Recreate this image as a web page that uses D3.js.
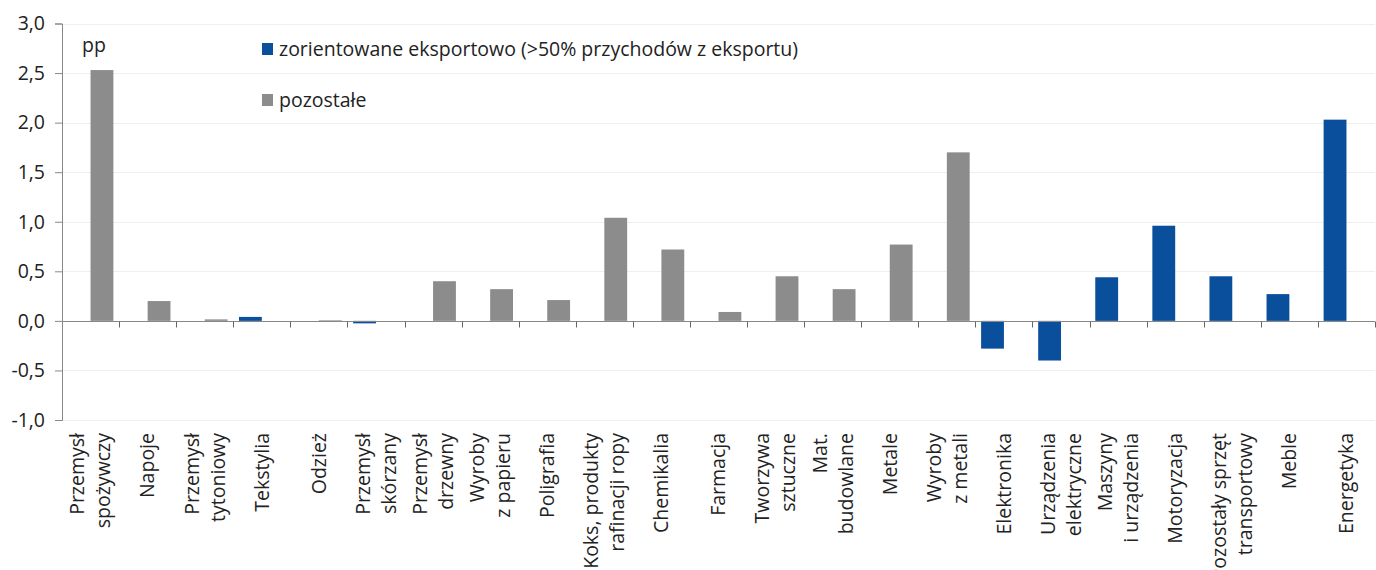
<!DOCTYPE html>
<html>
<head>
<meta charset="utf-8">
<script src="https://cdn.jsdelivr.net/npm/d3@7"></script>
<style>
  body { margin: 0; background: #fff; }
  text { font-family: "Open Sans", sans-serif; fill: #222; }
</style>
</head>
<body>
<div id="chart"></div>
<script>
// categories (\n = line break in the axis label)
var categories = [
  "Przemysł\nspożywczy", "Napoje", "Przemysł\ntytoniowy", "Tekstylia", "Odzież",
  "Przemysł\nskórzany", "Przemysł\ndrzewny", "Wyroby\nz papieru", "Poligrafia",
  "Koks, produkty\nrafinacji ropy", "Chemikalia", "Farmacja", "Tworzywa\nsztuczne",
  "Mat.\nbudowlane", "Metale", "Wyroby\nz metali", "Elektronika", "Urządzenia\nelektryczne",
  "Maszyny\ni urządzenia", "Motoryzacja", "Pozostały sprzęt\ntransportowy", "Meble", "Energetyka"
];

// export-oriented industries (>50% revenue from exports)
var exportValues = [
  null, null, null, 0.04, null,
  -0.025, null, null, null,
  null, null, null, null,
  null, null, null, -0.28, -0.40,
  0.44, 0.96, 0.45, 0.27, 2.03
];

// other industries
var otherValues = [
  2.53, 0.20, 0.015, null, 0.005,
  null, 0.40, 0.32, 0.21,
  1.04, 0.72, 0.09, 0.45,
  0.32, 0.77, 1.70, null, null,
  null, null, null, null, null
];

var yTicks = [-1.0, -0.5, 0.0, 0.5, 1.0, 1.5, 2.0, 2.5, 3.0];

var seriesNames = ["zorientowane eksportowo (>50% przychodów z eksportu)", "pozostałe"];
var seriesColors = ["#0a4f9c", "#8c8c8c"];

var chart_width = 1376, chart_height = 570;
var plot_left = 62, plot_right = 1375, plot_top = 23.5, plot_bottom = 420;
var font_size = '19.5px';

var svg = d3.select('#chart')
  .append('svg')
  .attr('width', chart_width)
  .attr('height', chart_height);

var x = d3.scaleBand()
  .domain(d3.range(categories.length))
  .range([plot_left, plot_right])
  .padding(0);

var bw = x.bandwidth();
var xs = d3.scaleBand()
  .domain([0, 1])
  .range([bw * 0.1, bw * 0.9])
  .padding(0);

var y = d3.scaleLinear()
  .domain([-1, 3])
  .range([plot_bottom, plot_top]);

// decimal comma, plain hyphen for negatives
var fmt = function(d) { return d.toFixed(1).replace('.', ','); };

// gridlines
svg.append('g')
  .selectAll('line')
  .data(yTicks)
  .enter()
  .append('line')
  .attr('x1', plot_left)
  .attr('x2', plot_right)
  .attr('y1', function(d) { return Math.round(y(d)) + 0.5; })
  .attr('y2', function(d) { return Math.round(y(d)) + 0.5; })
  .attr('stroke', '#efefef')
  .attr('stroke-width', 1);

// y axis
var yAxis = svg.append('g')
  .attr('transform', 'translate(' + plot_left + ',0)')
  .call(d3.axisLeft(y).tickValues(yTicks).tickFormat(fmt).tickSize(7).tickPadding(10));
yAxis.select('.domain').attr('stroke', '#888');
yAxis.selectAll('.tick line').attr('stroke', '#888');
yAxis.selectAll('.tick text')
  .style('font-size', font_size)
  .style('font-family', '"Open Sans", sans-serif')
  .attr('fill', '#222');

// bars
var series = [exportValues, otherValues];
series.forEach(function(vals, s) {
  svg.append('g')
    .selectAll('rect')
    .data(vals.map(function(v, i) { return {i: i, v: v}; }).filter(function(d) { return d.v !== null; }))
    .enter()
    .append('rect')
    .attr('x', function(d) { return x(d.i) + xs(s); })
    .attr('width', xs.bandwidth())
    .attr('y', function(d) { return y(Math.max(0, d.v)); })
    .attr('height', function(d) { return Math.max(1, Math.abs(y(d.v) - y(0))); })
    .attr('fill', seriesColors[s]);
});

// x axis line at zero, ticks at category boundaries
var zeroY = Math.round(y(0)) + 0.5;
svg.append('line')
  .attr('x1', plot_left).attr('x2', plot_right)
  .attr('y1', zeroY).attr('y2', zeroY)
  .attr('stroke', '#888');

svg.append('g')
  .selectAll('line')
  .data(d3.range(1, categories.length + 1))
  .enter()
  .append('line')
  .attr('x1', function(i) { return Math.round(plot_left + i * bw) + 0.5; })
  .attr('x2', function(i) { return Math.round(plot_left + i * bw) + 0.5; })
  .attr('y1', zeroY)
  .attr('y2', zeroY + 6)
  .attr('stroke', '#666');

// category labels, rotated
var lineH = 26;
svg.append('g')
  .selectAll('text')
  .data(categories)
  .enter()
  .append('text')
  .attr('transform', function(d, i) {
    return 'translate(' + (x(i) + bw / 2) + ',433) rotate(-90)';
  })
  .attr('text-anchor', 'end')
  .style('font-size', font_size)
  .each(function(d) {
    var lines = d.split('\n');
    var t = d3.select(this);
    lines.forEach(function(l, k) {
      t.append('tspan')
        .attr('x', 0)
        .attr('y', (k - (lines.length - 1) / 2) * lineH)
        .attr('dy', '0.35em')
        .text(l);
    });
  });

// unit label
svg.append('text')
  .attr('x', 82)
  .attr('y', 52)
  .style('font-size', font_size)
  .text('pp');

// legend
var legend = svg.append('g');
var legendY = [49, 100];
seriesNames.forEach(function(name, s) {
  legend.append('rect')
    .attr('x', 262)
    .attr('y', legendY[s] - 6)
    .attr('width', 11)
    .attr('height', 12)
    .attr('fill', seriesColors[s]);
  legend.append('text')
    .attr('x', 279)
    .attr('y', legendY[s] + 7)
    .style('font-size', font_size)
    .text(name);
});
</script>
</body>
</html>
